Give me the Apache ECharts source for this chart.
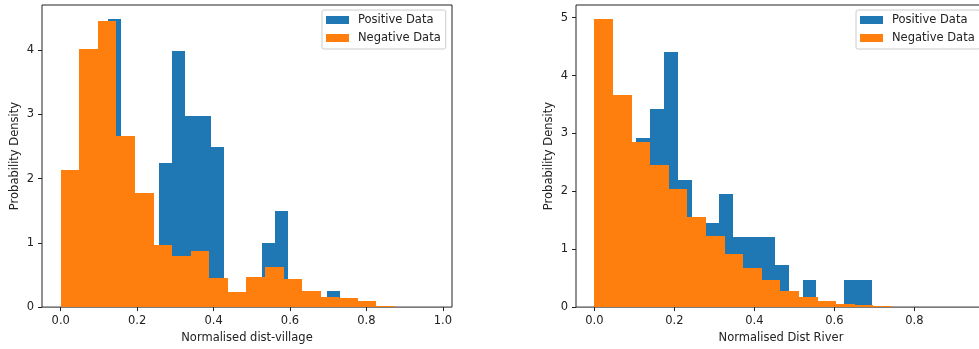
<!DOCTYPE html>
<html>
<head>
<meta charset="utf-8">
<script src="https://cdn.jsdelivr.net/npm/echarts@6/dist/echarts.min.js"></script>
<style>
  html, body { margin: 0; padding: 0; overflow: hidden; background: #fff; }
  #chart { width: 990px; height: 349px; }
</style>
</head>
<body>
<div id="chart"></div>
<script>
// left panel: Normalised dist-village
const villagePosStart = 0.056
const villagePosWidth = 0.0337
const villagePosDensity = [0.74, 1.98, 4.48, 1.98, 1.48, 0.74, 2.24, 3.99, 2.98, 2.98, 2.49, 0, 0.24, 0.24, 0.99, 1.49, 0.25, 0, 0, 0.25]
const villageNegStart = 0
const villageNegWidth = 0.0486
const villageNegDensity = [2.14, 4.01, 4.45, 2.66, 1.77, 0.96, 0.80, 0.88, 0.46, 0.23, 0.47, 0.62, 0.44, 0.25, 0.16, 0.14, 0.10, 0.015]

// right panel: Normalised Dist River
const riverPosStart = 0
const riverPosWidth = 0.0347
const riverPosDensity = [0.73, 1.95, 2.43, 2.93, 3.42, 4.40, 2.19, 1.46, 1.46, 1.95, 1.21, 1.21, 1.21, 0.73, 0, 0.47, 0, 0, 0.47, 0.47]
const riverNegStart = 0
const riverNegWidth = 0.0465
const riverNegDensity = [4.98, 3.66, 2.85, 2.45, 2.04, 1.55, 1.22, 0.91, 0.67, 0.468, 0.28, 0.17, 0.108, 0.045, 0.034, 0.017]

const xTicks = [0, 0.2, 0.4, 0.6, 0.8, 1.0]
const xTicksRiver = [0, 0.2, 0.4, 0.6, 0.8]
const yTicksVillage = [0, 1, 2, 3, 4]
const yTicksRiver = [0, 1, 2, 3, 4, 5]

const BLUE = '#1f77b4'
const ORANGE = '#ff7f0e'
const FONT = 'DejaVu Sans'
const FS = 11.5

// turn start/width/density into [x0, x1, h] bins
function bins(start, width, dens) {
    return dens.map((h, i) => [start + i * width, start + (i + 1) * width, h])
}

function renderBar(params, api) {
    const p0 = api.coord([api.value(0), api.value(2)])
    const p1 = api.coord([api.value(1), 0])
    // snap to whole pixels so neighbouring bins meet without seams
    const x0 = Math.round(p0[0]), x1 = Math.round(p1[0])
    const y0 = Math.round(p0[1]), y1 = Math.round(p1[1])
    return {
        type: 'rect',
        shape: { x: x0, y: y0, width: x1 - x0, height: y1 - y0 },
        style: api.style()
    }
}

function histSeries(name, color, data, idx) {
    return {
        name: name,
        type: 'custom',
        xAxisIndex: idx,
        yAxisIndex: idx,
        renderItem: renderBar,
        encode: { x: [0, 1], y: 2 },
        itemStyle: { color: color },
        data: data,
        silent: true
    }
}

function xAxis(idx, min, max, ticks, name) {
    return {
        type: 'value', gridIndex: idx, min: min, max: max,
        name: name, nameLocation: 'middle', nameGap: 23,
        nameTextStyle: { fontFamily: FONT, fontSize: FS, color: '#222' },
        splitLine: { show: false },
        axisLine: { show: false, onZero: false },
        axisTick: { show: true, length: 4, lineStyle: { color: '#222' }, customValues: ticks },
        axisLabel: {
            fontFamily: FONT, fontSize: FS, color: '#222', margin: 8,
            customValues: ticks, formatter: v => v.toFixed(1)
        }
    }
}

function yAxis(idx, max, ticks) {
    return {
        type: 'value', gridIndex: idx, min: 0, max: max,
        name: 'Probability Density', nameLocation: 'middle', nameGap: 21,
        nameTextStyle: { fontFamily: FONT, fontSize: FS, color: '#222' },
        splitLine: { show: false },
        axisLine: { show: false, onZero: false },
        axisTick: { show: true, length: 4, lineStyle: { color: '#222' }, customValues: ticks },
        axisLabel: {
            fontFamily: FONT, fontSize: FS, color: '#222', margin: 8,
            customValues: ticks, formatter: v => String(v)
        }
    }
}

function legend(left) {
    return {
        left: left, top: 10, orient: 'vertical',
        data: ['Positive Data', 'Negative Data'],
        icon: 'rect', itemWidth: 23, itemHeight: 8, itemGap: 6,
        padding: [4, 5, 5, 4],
        backgroundColor: 'rgba(255,255,255,0.8)',
        borderColor: '#ccc', borderWidth: 1, borderRadius: 2,
        textStyle: { fontFamily: FONT, fontSize: FS, color: '#222', padding: [0, 0, 0, 4] },
        selectedMode: false
    }
}

const chart = echarts.init(document.getElementById('chart'), null, { renderer: 'canvas' })
chart.setOption({
    animation: false,
    grid: [
        { left: 42, top: 5, width: 410, height: 304, show: true, borderColor: '#222', borderWidth: 1 },
        { left: 576, top: 5, width: 410, height: 304, show: true, borderColor: '#222', borderWidth: 1 }
    ],
    xAxis: [
        xAxis(0, -0.049, 1.024, xTicks, 'Normalised dist-village'),
        xAxis(1, -0.0458, 0.979, xTicksRiver, 'Normalised Dist River')
    ],
    yAxis: [
        yAxis(0, 4.70, yTicksVillage),
        yAxis(1, 5.22, yTicksRiver)
    ],
    legend: [legend(322), legend(856)],
    series: [
        histSeries('Positive Data', BLUE, bins(villagePosStart, villagePosWidth, villagePosDensity), 0),
        histSeries('Negative Data', ORANGE, bins(villageNegStart, villageNegWidth, villageNegDensity), 0),
        histSeries('Positive Data', BLUE, bins(riverPosStart, riverPosWidth, riverPosDensity), 1),
        histSeries('Negative Data', ORANGE, bins(riverNegStart, riverNegWidth, riverNegDensity), 1)
    ]
})
</script>
</body>
</html>
